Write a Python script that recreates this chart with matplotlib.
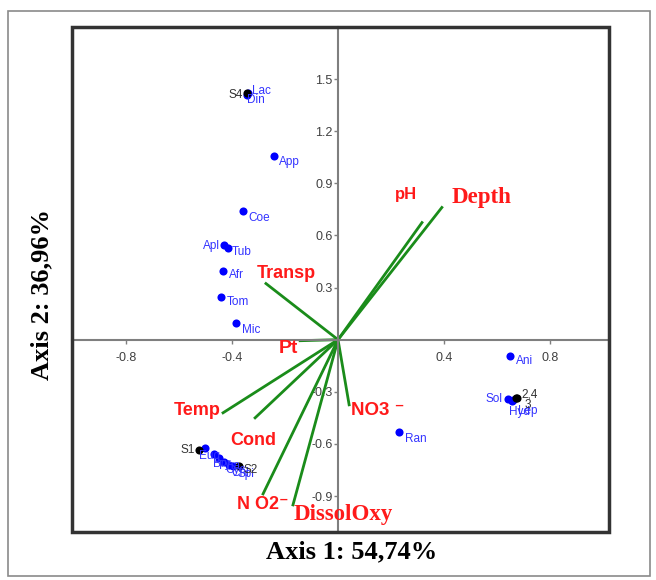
import numpy as np
import matplotlib.pyplot as plt
from matplotlib.patches import Rectangle

plt.rcParams['axes.unicode_minus'] = False

# species scores (blue)
species = ['Lac', 'Din', 'App', 'Coe', 'Apl', 'Tub', 'Afr', 'Tom', 'Mic',
           'Ran', 'Ani', 'Sol', 'Hyd', 'Lep',
           'Eug', 'Bry', 'Pha', 'Cyc', 'Chl', 'Spi']
sp_x = [-0.34, -0.345, -0.242, -0.358, -0.43, -0.415, -0.434, -0.442, -0.385,
        0.230, 0.649, 0.642, 0.655, 0.662,
        -0.502, -0.468, -0.450, -0.432, -0.413, -0.395]
sp_y = [1.418, 1.41, 1.06, 0.738, 0.545, 0.53, 0.398, 0.248, 0.098,
        -0.530, -0.092, -0.340, -0.352, -0.348,
        -0.622, -0.657, -0.680, -0.705, -0.722, -0.727]
# label offsets in points and alignment
sp_off = [(3, 2), (0, -4), (4, -5), (4, -5), (-3, -1), (3, -3), (4, -3), (4, -4), (4, -5),
          (4, -5), (4, -4), (-4, 0), (-2, -8), (3, -8),
          (-4, -6), (-1, -7), (0, -6), (1, -6), (2, -6), (3, -6)]
sp_ha = ['left', 'left', 'left', 'left', 'right', 'left', 'left', 'left', 'left',
         'left', 'left', 'right', 'left', 'left',
         'left', 'left', 'left', 'left', 'left', 'left']

# site scores (black)
sites = ['S4', 'S1', 'S2', '2,4', '3']
site_x = [-0.343, -0.525, -0.374, 0.675, 0.672]
site_y = [1.418, -0.634, -0.726, -0.334, -0.338]
site_off = [(-3, -1), (-3, 0), (3, -3), (3, 2), (6, -5)]
site_ha = ['right', 'right', 'left', 'left', 'left']

# environmental vectors
env = ['Depth', 'pH', 'Transp', 'Pt', 'Temp', 'Cond', 'N O2⁻', 'DissolOxy', 'NO3 ⁻']
env_x = [0.392, 0.317, -0.272, -0.143, -0.434, -0.313, -0.283, -0.170, 0.042]
env_y = [0.761, 0.674, 0.323, -0.006, -0.421, -0.450, -0.888, -0.951, -0.375]
env_lx = [0.543, 0.257, -0.196, -0.189, -0.532, -0.321, -0.283, 0.019, 0.15]
env_ly = [0.818, 0.836, 0.380, -0.052, -0.409, -0.582, -0.951, -1.009, -0.405]
env_size = [16.5, 12, 13, 14, 13, 13, 13, 16.5, 13.5]
env_serif = [True, False, False, False, False, False, False, True, False]

xticks = [-0.8, -0.4, 0.4, 0.8]
yticks = [-0.9, -0.6, -0.3, 0.3, 0.6, 0.9, 1.2, 1.5]

fig = plt.figure(figsize=(6.56, 5.8), dpi=100)
ax = fig.add_axes([0.1098, 0.0828, 0.8186, 0.8707])
ax.set_xlim(-1.004, 1.023)
ax.set_ylim(-1.107, 1.80)

# centered axes
for s in ['top', 'right']:
    ax.spines[s].set_visible(False)
ax.spines['left'].set_position(('data', 0))
ax.spines['bottom'].set_position(('data', 0))
ax.spines['left'].set_color('#7f7f7f')
ax.spines['bottom'].set_color('#7f7f7f')
ax.spines['left'].set_linewidth(1.5)
ax.spines['bottom'].set_linewidth(1.5)
ax.set_xticks(xticks)
ax.set_yticks(yticks)
ax.set_xticklabels([str(v) for v in xticks])
ax.set_yticklabels([str(v) for v in yticks])
ax.tick_params(direction='out', length=3, width=1, color='#7f7f7f',
               labelcolor='#404040', labelsize=9, pad=6)
ax.tick_params(axis='y', pad=1)
for t in ax.get_xticklabels() + ax.get_yticklabels():
    t.set_family(['Liberation Sans', 'DejaVu Sans'])

# box frame
ax.add_patch(Rectangle((0, 0), 1, 1, transform=ax.transAxes, fill=False,
                       edgecolor='#333333', linewidth=2.5, clip_on=False, zorder=5))

# vectors
for i in range(len(env)):
    ax.plot([0, env_x[i]], [0, env_y[i]], color='#1a8c1a', linewidth=2, zorder=2)
    fam = ['Liberation Serif', 'DejaVu Serif'] if env_serif[i] else ['Liberation Sans', 'DejaVu Sans']
    ax.text(env_lx[i], env_ly[i], env[i], color='#ff1a1a', fontsize=env_size[i],
            fontweight='bold', family=fam, ha='center', va='center', zorder=4)

# species
ax.scatter(sp_x, sp_y, s=34, color='#0000ff', zorder=3, linewidths=0)
for i in range(len(species)):
    ax.annotate(species[i], (sp_x[i], sp_y[i]), xytext=sp_off[i], textcoords='offset points',
                ha=sp_ha[i], va='center', color='#3333ff', fontsize=8.5,
                family=['Liberation Sans', 'DejaVu Sans'], zorder=4)

# sites
ax.scatter(site_x, site_y, s=34, color='black', zorder=3, linewidths=0)
for i in range(len(sites)):
    ax.annotate(sites[i], (site_x[i], site_y[i]), xytext=site_off[i], textcoords='offset points',
                ha=site_ha[i], va='center', color='#333333', fontsize=8.5,
                family=['Liberation Sans', 'DejaVu Sans'], zorder=4)

# axis titles
fig.text(352 / 656, 1 - 552 / 580, 'Axis 1: 54,74%', ha='center', va='center',
         fontsize=19, fontweight='bold', family=['Liberation Serif', 'DejaVu Serif'])
fig.text(42 / 656, 1 - 295 / 580, 'Axis 2: 36,96%', ha='center', va='center', rotation=90,
         fontsize=19, fontweight='bold', family=['Liberation Serif', 'DejaVu Serif'])

# outer border
fig.patches.append(Rectangle((8 / 656, 4 / 580), 642 / 656, 565 / 580, transform=fig.transFigure,
                             fill=False, edgecolor='#8a8a8a', linewidth=1.2))

fig.savefig('out.png', dpi=100)
